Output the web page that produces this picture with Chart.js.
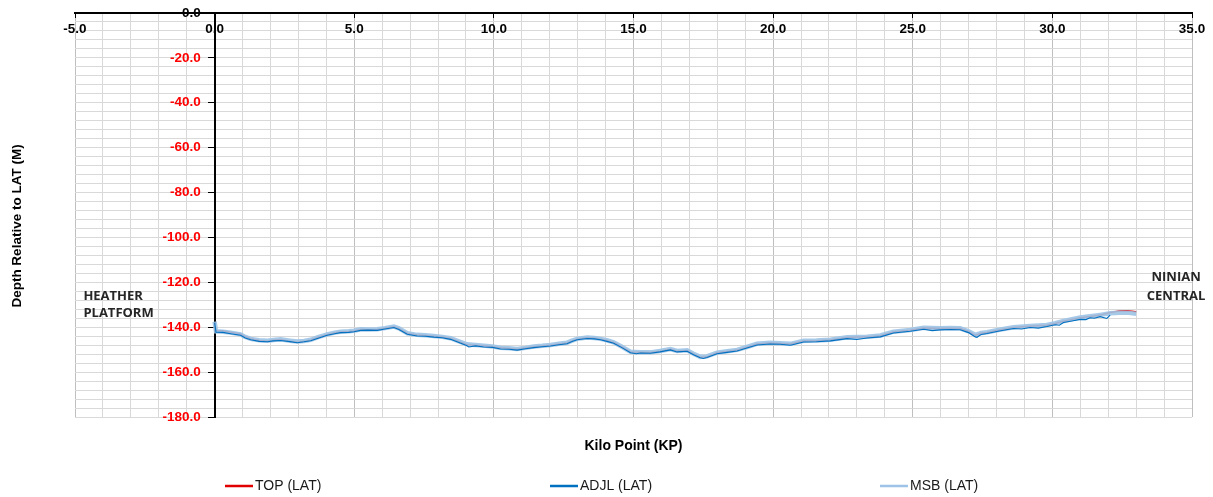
<!DOCTYPE html>
<html>
<head>
<meta charset="utf-8">
<script src="https://cdn.jsdelivr.net/npm/chart.js@4.4.1/dist/chart.umd.min.js"></script>
<style>
    html, body { margin: 0; padding: 0; background: #fff; }
</style>
</head>
<body>
<canvas id="myChart" width="1213" height="497"></canvas>
<script>
// kilo point along the route (TOP and MSB)
var kp = [
    0.00, 0.05, 0.30, 0.57, 0.93, 1.10, 1.29, 1.60, 1.89, 2.10,
    2.36, 2.70, 2.96, 3.20, 3.44, 3.68, 4.03, 4.30, 4.51, 4.80,
    4.99, 5.23, 5.50, 5.82, 6.10, 6.42, 6.60, 6.90, 7.25, 7.55,
    7.85, 8.15, 8.45, 8.75, 9.04, 9.34, 9.64, 9.95, 10.24, 10.55,
    10.83, 11.13, 11.43, 11.73, 12.03, 12.33, 12.62, 12.80, 12.98, 13.34,
    13.60, 13.82, 14.05, 14.29, 14.60, 14.89, 15.25, 15.60, 15.95, 16.32,
    16.56, 16.92, 17.15, 17.39, 17.63, 17.99, 18.35, 18.71, 19.06, 19.42,
    19.90, 20.25, 20.62, 21.09, 21.55, 22.05, 22.65, 23.36, 23.84, 24.31,
    24.91, 25.39, 25.98, 26.35, 26.70, 27.00, 27.24, 27.45, 27.66, 28.10,
    28.61, 29.20, 29.80, 30.10, 30.40, 30.70, 31.00, 31.35, 31.71, 32.07,
    32.40, 32.67, 33.00
];

var topLat = [
    -137.8, -141.5, -141.6, -142.2, -143.0, -144.2, -145.1, -145.9, -146.2, -145.8,
    -145.5, -146.3, -146.7, -146.3, -145.7, -144.6, -143.3, -142.5, -142.1, -141.9,
    -141.7, -141.0, -141.1, -141.0, -140.5, -139.8, -140.6, -142.8, -143.5, -143.7,
    -144.0, -144.4, -145.0, -146.4, -147.8, -148.0, -148.3, -148.7, -149.2, -149.5,
    -149.8, -149.3, -148.7, -148.4, -148.0, -147.5, -147.0, -146.1, -145.3, -144.7,
    -144.9, -145.3, -145.9, -146.8, -148.9, -151.0, -151.2, -151.3, -150.7, -149.8,
    -150.7, -150.4, -151.9, -153.4, -153.2, -151.4, -150.8, -150.2, -148.9, -147.5,
    -147.0, -147.2, -147.5, -146.1, -146.0, -145.7, -144.6, -144.3, -143.8, -142.1,
    -141.3, -140.3, -140.6, -140.5, -140.6, -141.9, -143.6, -142.7, -142.3, -141.2,
    -140.1, -139.6, -139.1, -138.3, -137.3, -136.5, -135.8, -135.2, -134.6, -133.4,
    -132.8, -132.7, -133.1
];

var msbLat = [
    -137.5, -141.8, -142.0, -142.4, -143.2, -144.3, -145.2, -145.8, -146.0, -145.7,
    -145.4, -146.0, -146.4, -146.1, -145.6, -144.5, -143.2, -142.4, -142.0, -141.8,
    -141.6, -140.9, -141.0, -140.9, -140.4, -139.7, -140.5, -142.7, -143.4, -143.6,
    -143.9, -144.3, -144.9, -146.3, -147.6, -147.9, -148.2, -148.6, -149.1, -149.4,
    -149.7, -149.2, -148.6, -148.3, -147.9, -147.4, -146.9, -146.0, -145.2, -144.6,
    -144.8, -145.2, -145.8, -146.7, -148.8, -150.9, -151.1, -151.2, -150.6, -149.7,
    -150.6, -150.3, -151.8, -153.2, -153.0, -151.3, -150.7, -150.1, -148.8, -147.4,
    -146.9, -147.1, -147.4, -146.0, -145.9, -145.6, -144.5, -144.2, -143.7, -142.0,
    -141.2, -140.2, -140.5, -140.4, -140.5, -141.8, -143.4, -142.6, -142.2, -141.1,
    -140.0, -139.5, -139.0, -138.2, -137.2, -136.4, -135.7, -135.1, -134.5, -133.8,
    -133.6, -133.5, -134.0
];

// ADJL has its own, slightly denser (noisier) sampling and stops earlier
var adjlKp = [
    0.00, 0.05, 0.30, 0.57, 0.93, 1.10, 1.29, 1.60, 1.89, 2.10,
    2.36, 2.70, 2.96, 3.20, 3.44, 3.68, 4.03, 4.30, 4.51, 4.80,
    4.99, 5.23, 5.50, 5.82, 6.10, 6.42, 6.60, 6.90, 7.25, 7.55,
    7.85, 8.15, 8.45, 8.75, 9.04, 9.10, 9.34, 9.64, 9.95, 10.24,
    10.55, 10.83, 11.13, 11.43, 11.73, 12.03, 12.33, 12.62, 12.80, 12.98,
    13.34, 13.60, 13.82, 14.05, 14.29, 14.60, 14.89, 15.10, 15.25, 15.60,
    15.95, 16.32, 16.56, 16.92, 17.15, 17.39, 17.50, 17.63, 17.99, 18.35,
    18.71, 19.06, 19.42, 19.90, 20.25, 20.62, 21.09, 21.55, 22.05, 22.65,
    23.00, 23.36, 23.84, 24.31, 24.91, 25.39, 25.70, 25.98, 26.35, 26.70,
    27.00, 27.24, 27.30, 27.45, 27.66, 28.10, 28.61, 28.90, 29.20, 29.50,
    29.80, 30.10, 30.25, 30.40, 30.70, 31.00, 31.20, 31.35, 31.50, 31.71,
    31.95, 32.07
];

var adjlLat = [
    -138.0, -142.2, -142.3, -142.9, -143.6, -144.8, -145.6, -146.3, -146.5, -146.1,
    -145.9, -146.4, -146.9, -146.5, -146.0, -145.0, -143.6, -142.9, -142.4, -142.3,
    -142.0, -141.4, -141.3, -141.4, -140.8, -140.1, -141.0, -143.1, -143.9, -144.0,
    -144.4, -144.7, -145.4, -146.8, -148.3, -148.8, -148.3, -148.8, -149.0, -149.7,
    -149.8, -150.2, -149.6, -149.1, -148.7, -148.4, -147.8, -147.4, -146.4, -145.6,
    -145.0, -145.2, -145.6, -146.3, -147.1, -149.2, -151.4, -151.8, -151.5, -151.6,
    -151.0, -150.1, -151.0, -150.7, -152.3, -153.6, -153.9, -153.5, -151.8, -151.2,
    -150.6, -149.3, -147.9, -147.5, -147.6, -148.0, -146.6, -146.5, -146.1, -145.1,
    -145.5, -144.8, -144.3, -142.6, -141.8, -140.9, -141.5, -141.2, -141.0, -141.1,
    -142.4, -144.3, -144.5, -143.2, -142.8, -141.7, -140.6, -140.8, -140.1, -140.4,
    -139.7, -138.9, -139.1, -137.9, -137.2, -136.5, -136.6, -135.8, -136.0, -135.3,
    -136.1, -134.6
];

// labelled ticks
var xMajor = [-5, 0, 5, 10, 15, 20, 25, 30, 35];
var yMajor = [0, -20, -40, -60, -80, -100, -120, -140, -160, -180];

function toPoints(xs, vals) {
    return xs.map(function (x, i) { return { x: x, y: vals[i] }; });
}

var tickFont = { family: '"Liberation Sans", Arial, sans-serif', size: 13.5, weight: 'bold' };

// titles, end labels and legend
var decor = {
    id: 'decor',
    afterDraw: function (chart) {
        var c = chart.ctx;
        var xs = chart.scales.x;
        var ys = chart.scales.y;
        var area = chart.chartArea;
        c.save();
        c.fillStyle = '#000';
        c.font = 'bold 14px "Liberation Sans", Arial, sans-serif';
        c.textAlign = 'center';
        c.textBaseline = 'middle';
        c.fillText('Kilo Point (KP)', (area.left + area.right) / 2, area.bottom + 29);

        c.save();
        c.translate(17, 226);
        c.rotate(-Math.PI / 2);
        c.font = 'bold 13.5px "Liberation Sans", Arial, sans-serif';
        c.fillText('Depth Relative to LAT (M)', 0, 0);
        c.restore();

        c.font = 'bold 13px "Open Sans", sans-serif';
        c.fillStyle = '#262626';
        c.textAlign = 'left';
        c.fillText('HEATHER', xs.getPixelForValue(-4.7), ys.getPixelForValue(-126));
        c.fillText('PLATFORM', xs.getPixelForValue(-4.7), ys.getPixelForValue(-134));
        c.textAlign = 'center';
        c.fillText('NINIAN', xs.getPixelForValue(34.43), ys.getPixelForValue(-117.6));
        c.fillText('CENTRAL', xs.getPixelForValue(34.43), ys.getPixelForValue(-126));

        var legendX = [225, 550, 880];
        var legendY = 486;
        c.font = '14px "Liberation Sans", Arial, sans-serif';
        c.textAlign = 'left';
        chart.data.datasets.forEach(function (ds, i) {
            c.strokeStyle = ds.legendColor;
            c.lineWidth = 2.5;
            c.beginPath();
            c.moveTo(legendX[i], legendY);
            c.lineTo(legendX[i] + 28, legendY);
            c.stroke();
            c.fillStyle = '#1a1a1a';
            c.fillText(ds.label, legendX[i] + 30, legendY);
        });
        c.restore();
    }
};

var ctx = document.getElementById('myChart').getContext('2d');

var chart = new Chart(ctx, {

    type: 'line',

    data: {
        datasets: [{
            label: 'TOP (LAT)',
            data: toPoints(kp, topLat),
            borderColor: '#e00000',
            legendColor: '#e00000',
            borderWidth: 1.5,
            order: 3
        }, {
            label: 'ADJL (LAT)',
            data: toPoints(adjlKp, adjlLat),
            borderColor: '#0070c0',
            legendColor: '#0070c0',
            borderWidth: 1.1,
            order: 1
        }, {
            label: 'MSB (LAT)',
            data: toPoints(kp, msbLat),
            borderColor: 'rgba(157, 195, 230, 0.9)',
            legendColor: '#9dc3e6',
            borderWidth: 4.5,
            order: 2
        }]
    },

    options: {
        responsive: false,
        animation: false,
        elements: {
            point: { radius: 0 },
            line: { tension: 0, fill: false }
        },
        layout: { padding: { left: 75, right: 21, top: 13, bottom: 80 } },
        plugins: {
            legend: { display: false },
            tooltip: { enabled: false }
        },
        scales: {
            x: {
                type: 'linear',
                position: { y: 0 },
                min: -5,
                max: 35,
                ticks: {
                    stepSize: 1,
                    autoSkip: false,
                    maxRotation: 0,
                    padding: 4,
                    color: '#000',
                    font: tickFont,
                    callback: function (v) { return xMajor.indexOf(v) >= 0 ? v.toFixed(1) : ''; }
                },
                grid: {
                    color: function (c) { return c.tick && c.tick.value % 5 === 0 ? '#bfbfbf' : '#d9d9d9'; },
                    tickLength: 4,
                    tickColor: function (c) { return c.tick && c.tick.value % 5 === 0 ? '#000' : 'rgba(0,0,0,0)'; }
                },
                border: { color: '#000', width: 2 },
                afterFit: function (s) { s.height = 0; }
            },
            y: {
                type: 'linear',
                position: { x: 0 },
                min: -180,
                max: 0,
                ticks: {
                    stepSize: 4,
                    autoSkip: false,
                    font: tickFont,
                    callback: function () { return ''; }
                },
                grid: {
                    color: '#d9d9d9',
                    tickLength: 6,
                    tickColor: function (c) { return c.tick && c.tick.value % 20 === 0 ? '#000' : 'rgba(0,0,0,0)'; }
                },
                border: { color: '#000', width: 2 },
                afterFit: function (s) { s.width = 0; }
            },
            // labels of the depth axis, set just left of the KP 0 line
            yLabels: {
                type: 'linear',
                axis: 'y',
                position: { x: -0.5 },
                min: -180,
                max: 0,
                ticks: {
                    stepSize: 20,
                    autoSkip: false,
                    color: function (c) { return c.tick && c.tick.value === 0 ? '#000' : '#ff0000'; },
                    font: tickFont,
                    callback: function (v) { return yMajor.indexOf(v) >= 0 ? v.toFixed(1) : ''; }
                },
                grid: { display: false },
                border: { display: false },
                afterFit: function (s) { s.width = 0; }
            }
        }
    },

    plugins: [decor]
});
</script>
</body>
</html>
